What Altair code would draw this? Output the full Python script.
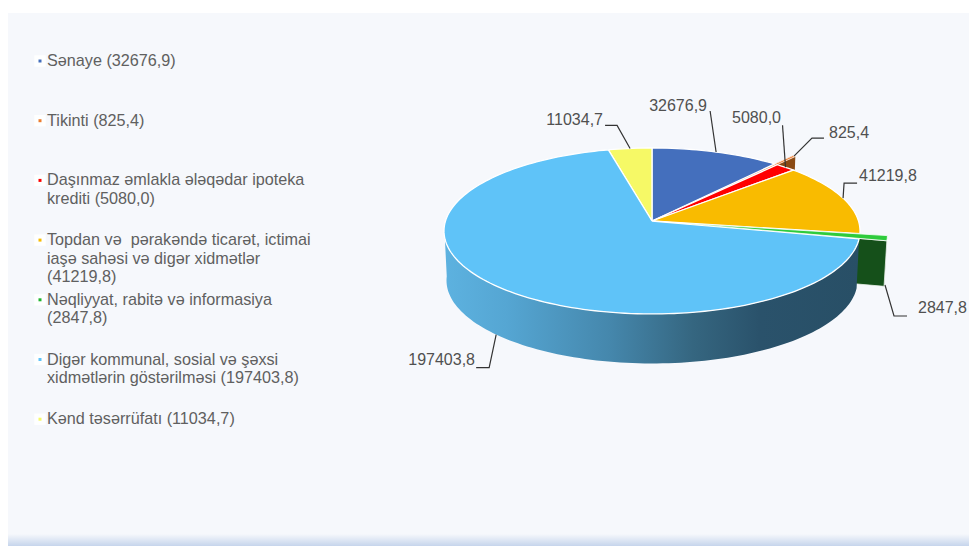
import math
import altair as alt
import pandas as pd

# ---- data
categories = ["Sənaye", "Tikinti", "Daşınmaz əmlakla ələqədar ipoteka krediti",
              "Topdan və pərakəndə ticarət, ictimai iaşə sahəsi və digər xidmətlər",
              "Nəqliyyat, rabitə və informasiya",
              "Digər kommunal, sosial və şəxsi xidmətlərin göstərilməsi", "Kənd təsərrüfatı"]
values = [32676.9, 825.4, 5080.0, 41219.8, 2847.8, 197403.8, 11034.7]
value_labels = ["32676,9", "825,4", "5080,0", "41219,8", "2847,8", "197403,8", "11034,7"]
legend_lines = [
    "Sənaye (32676,9)",
    "Tikinti (825,4)",
    "Daşınmaz əmlakla ələqədar ipoteka\nkrediti (5080,0)",
    "Topdan və\u00a0 pərakəndə ticarət, ictimai\niaşə sahəsi və digər xidmətlər\n(41219,8)",
    "Nəqliyyat, rabitə və informasiya\n(2847,8)",
    "Digər kommunal, sosial və şəxsi\nxidmətlərin göstərilməsi (197403,8)",
    "Kənd təsərrüfatı (11034,7)",
]
top_colors = ["#446fbd", "#ed7d31", "#ff0000", "#f9bb00", "#2ecb3c", "#5fc3f8", "#f6f966"]
legend_colors = ["#446fbd", "#ed7d31", "#ff0000", "#f9bb00", "#1fb52f", "#5fc3f8", "#f6f966"]
BROWN, DKGREEN = "#8a4a14", "#15501a"
TEXT = "#606060"
LABEL = "#505050"

# ---- pie geometry
CX, CY, B, A, K = 652.0, 221.0, 206.5, 81.8, 0.12
DEPTH, BOTTOM_SCALE, EXPLODE = 49.5, 0.988, 1.13
PAGE_R, PAGE_B = 969, 546


def project(theta, r=1.0, down=False):
    t = math.radians(theta)
    u, v = r * math.sin(t), r * math.cos(t)
    w = 1 + K * v
    x, y = B * u / w, -A * v / w
    if down:
        return CX + x * BOTTOM_SCALE, CY + y + DEPTH
    return CX + x, CY + y


total = sum(values)
ends, run = [], 0.0
for val in values:
    run += val
    ends.append(run / total * 360)
starts = [0.0] + ends[:-1]
mids = [(s + e) / 2 for s, e in zip(starts, ends)]

sx = alt.Scale(domain=[8, PAGE_R], range=[0, PAGE_R - 8], nice=False, zero=False)
sy = alt.Scale(domain=[8, PAGE_B], range=[0, PAGE_B - 8], nice=False, zero=False)
X = alt.X("x:Q", scale=sx, axis=None)
Y = alt.Y("y:Q", scale=sy, axis=None)


def polygon(points, fill, stroke=None, width=1.0):
    df = pd.DataFrame({"x": [p[0] for p in points] + [points[0][0]],
                       "y": [p[1] for p in points] + [points[0][1]],
                       "i": range(len(points) + 1)})
    kw = dict(fill=fill, interpolate="linear", clip=False)
    if stroke:
        kw.update(stroke=stroke, strokeWidth=width)
    else:
        kw.update(strokeWidth=0, strokeOpacity=0)
    return alt.Chart(df).mark_line(**kw).encode(x=X, y=Y, order="i:Q")


def arc_range(a, b):
    n = max(2, int(abs(b - a) / 1.5))
    return [a + (b - a) * j / n for j in range(n + 1)]


def wedge(i, r=1.0):
    mid = math.radians(mids[i])
    off = r - 1.0
    ax = project(mids[i], off) if off > 0 else (CX, CY)
    pts = [ax]
    for th in arc_range(starts[i], ends[i]):
        t = math.radians(th)
        u = math.sin(t) + off * math.sin(mid)
        v = math.cos(t) + off * math.cos(mid)
        w = 1 + K * v
        pts.append((CX + B * u / w, CY - A * v / w))
    return pts


def end_face(i, r):
    """Radial cut face of an exploded slice (its clockwise end)."""
    pts = wedge(i, r)
    apex, outer = pts[0], pts[-1]
    s = BOTTOM_SCALE
    return [apex, outer,
            (CX + (outer[0] - CX) * s, outer[1] + DEPTH * 0.92),
            (CX + (apex[0] - CX) * s, apex[1] + DEPTH * 0.92)]


layers = []

# page background
bg = pd.DataFrame({"x": [8], "x2": [PAGE_R], "y": [13], "y2": [PAGE_B]})
layers.append(alt.Chart(bg).mark_rect(color="#f6f8fc").encode(x=X, x2="x2:Q", y=Y, y2="y2:Q"))
band = pd.DataFrame({"x": [8], "x2": [PAGE_R], "y": [PAGE_B - 12], "y2": [PAGE_B]})
layers.append(alt.Chart(band).mark_rect(
    color=alt.Gradient(gradient="linear", x1=0, x2=0, y1=0, y2=1,
                       stops=[alt.GradientStop(color="#f6f8fc", offset=0),
                              alt.GradientStop(color="#c6d5ec", offset=1)])
).encode(x=X, x2="x2:Q", y=Y, y2="y2:Q"))

# exploded slices, behind the main body
BROWN_R = 1.16
layers.append(polygon(end_face(1, BROWN_R), BROWN))
layers.append(polygon(wedge(1, BROWN_R), top_colors[1], "#fbe6d8", 0.8))
layers.append(polygon(end_face(4, EXPLODE), DKGREEN, "#e8efe8", 0.8))

# front wall with gradient
wall_top = [project(t) for t in arc_range(starts[5], 266)]
wall_bot = [project(t, down=True) for t in arc_range(266, starts[5])]
wall_fill = alt.Gradient(gradient="linear", x1=0, x2=1, y1=0, y2=0, stops=[
    alt.GradientStop(color="#5db2e0", offset=0),
    alt.GradientStop(color="#55a6d3", offset=0.15),
    alt.GradientStop(color="#4587ac", offset=0.40),
    alt.GradientStop(color="#356680", offset=0.60),
    alt.GradientStop(color="#2a526b", offset=0.76),
    alt.GradientStop(color="#284f66", offset=1),
])
layers.append(polygon(wall_top + wall_bot, wall_fill))

# tops
for i in [0, 2, 3, 6, 5]:
    layers.append(polygon(wedge(i), top_colors[i], "white", 1.3))
layers.append(polygon(wedge(4, EXPLODE), top_colors[4], "white", 0.8))

# leader lines: start at each slice's mid angle, then the elbow offsets
leader_start = {
    0: project(mids[0]), 1: project(mids[1], BROWN_R), 2: project(mids[2]),
    3: project(mids[3]), 4: (885, 285), 5: project(mids[5], down=True), 6: project(mids[6]),
}
leader_steps = {
    0: [(-6, -41)], 1: [(18, -18), (12, 0)], 2: [(-3, -42)],
    3: [(1, -15), (13, 0)], 4: [(9, 31), (13, 0)], 5: [(-7, 33), (-13, 0)], 6: [(-13, -23), (-12, 0)],
}
label_pos = {0: (707, 106, "right"), 1: (829, 133, "left"), 2: (781, 118, "right"),
             3: (859, 176, "left"), 4: (918, 308, "left"), 5: (475, 360, "right"), 6: (603, 120, "right")}
for i in range(7):
    pts = [leader_start[i]]
    for dx, dy in leader_steps[i]:
        pts.append((pts[-1][0] + dx, pts[-1][1] + dy))
    df = pd.DataFrame({"x": [p[0] for p in pts], "y": [p[1] for p in pts], "i": range(len(pts))})
    layers.append(alt.Chart(df).mark_line(color="#333333", strokeWidth=1.2).encode(x=X, y=Y, order="i:Q"))

for align in ["left", "right"]:
    rows = [dict(x=label_pos[i][0], y=label_pos[i][1], t=value_labels[i])
            for i in range(7) if label_pos[i][2] == align]
    layers.append(alt.Chart(pd.DataFrame(rows)).mark_text(
        align=align, baseline="middle", font="Liberation Sans", fontSize=16, color=LABEL
    ).encode(x=X, y=Y, text="t:N"))

# legend
LEG_Y0, LEG_STEP = 61.0, 59.7
leg = pd.DataFrame({
    "x": [40] * 7, "tx": [47] * 7,
    "y": [LEG_Y0 + LEG_STEP * i for i in range(7)],
    "t": legend_lines, "c": legend_colors, "cat": categories,
})
layers.append(alt.Chart(leg).mark_square(size=130, color="white", opacity=0.9, cornerRadius=3).encode(x=X, y=Y))
layers.append(alt.Chart(leg).mark_square(size=9, opacity=1).encode(
    x=X, y=Y, color=alt.Color("c:N", scale=None)))
layers.append(alt.Chart(leg).mark_text(
    align="left", baseline="top", dy=-8, font="Liberation Sans", fontSize=16.2,
    lineBreak="\n", lineHeight=18.5, color=TEXT
).encode(x=alt.X("tx:Q", scale=sx, axis=None), y=Y, text="t:N"))

chart = alt.layer(*layers).properties(
    width=PAGE_R - 8, height=PAGE_B - 8, padding=0, autosize=alt.AutoSizeParams(type="none"),
    background="white"
).configure_view(stroke=None)
chart.save("out.html", embed_options={"renderer": "svg", "actions": False})
